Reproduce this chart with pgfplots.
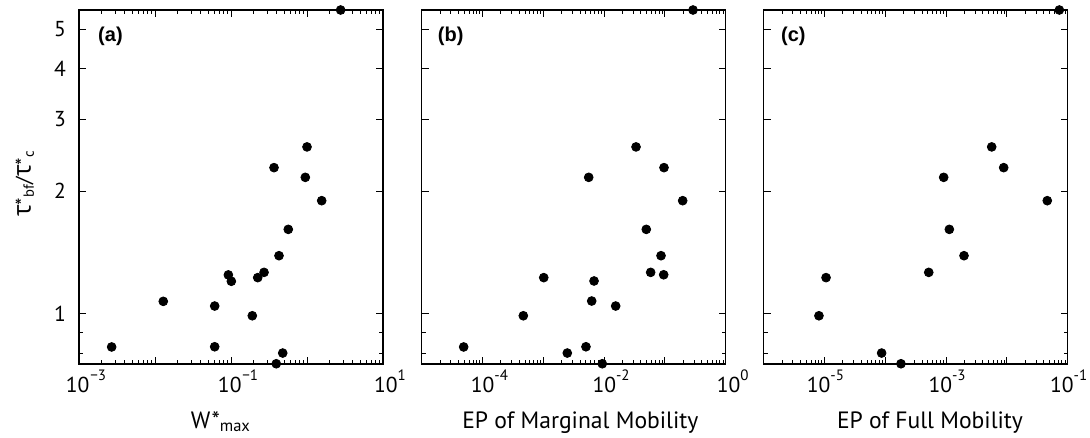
\documentclass[border=0pt]{standalone}
\usepackage{pgfplots}
\pgfplotsset{compat=1.18}
\usepackage{fontspec}
\setmainfont{PT Sans}
\newfontfamily\greekfont{Open Sans}
\newfontfamily\panelfont{Liberation Sans}
\newcommand{\tl}[1]{10\raisebox{0.55em}{\fontsize{7.5}{8}\selectfont #1}}
\newcommand{\tlm}[1]{10\raisebox{0.55em}{\fontsize{7.5}{8}\selectfont\kern0.05em#1}}

\pgfplotstableread{
x y
2.77 5.57
1.0 2.57
0.368 2.286
0.95 2.164
1.56 1.897
0.567 1.613
0.428 1.39
0.272 1.265
0.2246 1.228
0.0923 1.247
0.101 1.203
0.01285 1.074
0.061 1.046
0.1906 0.99
0.00269 0.83
0.061 0.831
0.479 0.802
0.394 0.755
}\dataA

\pgfplotstableread{
x y
0.29 5.57
0.0335 2.57
0.0966 2.286
0.00558 2.164
0.196 1.897
0.0494 1.613
0.0863 1.39
0.0583 1.265
0.0955 1.248
0.001017 1.228
0.00683 1.205
0.00625 1.076
0.0155 1.046
0.000469 0.99
0.000049 0.83
0.00503 0.831
0.00248 0.802
0.00933 0.755
}\dataB

\pgfplotstableread{
x y
0.0728 5.57
0.00562 2.57
0.00885 2.286
0.000912 2.164
0.0461 1.897
0.00113 1.613
0.00197 1.39
0.000518 1.265
0.0000106 1.228
0.0000081 0.99
0.000087 0.802
0.000181 0.755
}\dataC

\pgfplotsset{
  /pgfplots/myaxis/.style={
    scale only axis,
    width=152pt, height=177pt,
    ymin=0.754, ymax=5.57,
    ytick={1,2,3,4,5},
    minor ytick={0.8,0.9},
    tick align=inside,
    major tick length=3.5pt,
    minor tick length=2pt,
    axis line style={line width=0.6pt},
    every major tick/.append style={line width=0.5pt, black},
    every minor tick/.append style={line width=0.4pt, black},
    tick label style={font=\fontsize{10.8}{12}\selectfont},
    xticklabel style={anchor=base, yshift=-14.3pt, xshift=3.5pt},
    yticklabel style={xshift=-3pt},
    label style={font=\fontsize{11.8}{13}\selectfont},
    clip=false,
    anchor=south west,
  },
}

\begin{document}
\begin{tikzpicture}
% (a)
\begin{loglogaxis}[myaxis, at={(39.5pt,37pt)},
  xmin=1e-3, xmax=10,
  xtick={1e-3,1e-2,1e-1,1,10},
  xticklabels={\tlm{−3},,\tlm{−1},,\tl{1}},
  minor xtick={2e-3,3e-3,4e-3,5e-3,6e-3,7e-3,8e-3,9e-3,
    0.02,0.03,0.04,0.05,0.06,0.07,0.08,0.09,
    0.2,0.3,0.4,0.5,0.6,0.7,0.8,0.9,
    2,3,4,5,6,7,8,9},
  yticklabels={1,2,3,4,5},
  xlabel={W*\textsubscript{max}},
  xlabel style={at={(axis description cs:0.467,-0.181)}, anchor=base},
  ylabel={{\greekfont\fontsize{12.5}{13}\selectfont τ}*\textsubscript{bf}/{\greekfont\fontsize{12.5}{13}\selectfont τ}*\textsubscript{c}},
  ylabel style={at={(axis description cs:-0.178,0.51)}, anchor=center, font=\fontsize{10.5}{13}\selectfont},
]
\addplot[only marks, mark=*, mark size=2.2pt, black, mark options={fill=black}] table[x=x,y=y] {\dataA};
\node[anchor=west, font=\panelfont\bfseries\fontsize{10}{11}\selectfont] at (axis description cs:0.04,0.926) {(a)};
\end{loglogaxis}
% (b)
\begin{loglogaxis}[myaxis, at={(210.85pt,37pt)},
  xmin=1e-5, xmax=1,
  xtick={1e-5,1e-4,1e-3,1e-2,1e-1,1},
  xticklabels={,\tl{-4},,\tl{-2},,\tl{0}},
  minor xtick={2e-5,3e-5,4e-5,5e-5,6e-5,7e-5,8e-5,9e-5,
    2e-4,3e-4,4e-4,5e-4,6e-4,7e-4,8e-4,9e-4,
    2e-3,3e-3,4e-3,5e-3,6e-3,7e-3,8e-3,9e-3,
    0.02,0.03,0.04,0.05,0.06,0.07,0.08,0.09,
    0.2,0.3,0.4,0.5,0.6,0.7,0.8,0.9},
  yticklabels={},
  xlabel={EP of Marginal Mobility},
  xlabel style={at={(axis description cs:0.522,-0.181)}, anchor=base},
]
\addplot[only marks, mark=*, mark size=2.2pt, black, mark options={fill=black}] table[x=x,y=y] {\dataB};
\node[anchor=west, font=\panelfont\bfseries\fontsize{10}{11}\selectfont] at (axis description cs:0.03,0.926) {(b)};
\end{loglogaxis}
% (c)
\begin{loglogaxis}[myaxis, at={(381.85pt,37pt)},
  xmin=1e-6, xmax=0.1,
  xtick={1e-6,1e-5,1e-4,1e-3,1e-2,1e-1},
  xticklabels={,\tl{-5},,\tl{-3},,\tl{-1}},
  xticklabel style={xshift=-3pt},
  minor xtick={2e-6,3e-6,4e-6,5e-6,6e-6,7e-6,8e-6,9e-6,
    2e-5,3e-5,4e-5,5e-5,6e-5,7e-5,8e-5,9e-5,
    2e-4,3e-4,4e-4,5e-4,6e-4,7e-4,8e-4,9e-4,
    2e-3,3e-3,4e-3,5e-3,6e-3,7e-3,8e-3,9e-3,
    0.02,0.03,0.04,0.05,0.06,0.07,0.08,0.09},
  yticklabels={},
  xlabel={EP of Full Mobility},
  xlabel style={at={(axis description cs:0.547,-0.181)}, anchor=base},
]
\addplot[only marks, mark=*, mark size=2.2pt, black, mark options={fill=black}] table[x=x,y=y] {\dataC};
\node[anchor=west, font=\panelfont\bfseries\fontsize{10}{11}\selectfont] at (axis description cs:0.034,0.926) {(c)};
\end{loglogaxis}
\pgfresetboundingbox
\useasboundingbox (0,0) rectangle (545pt,219pt);
\end{tikzpicture}
\end{document}
